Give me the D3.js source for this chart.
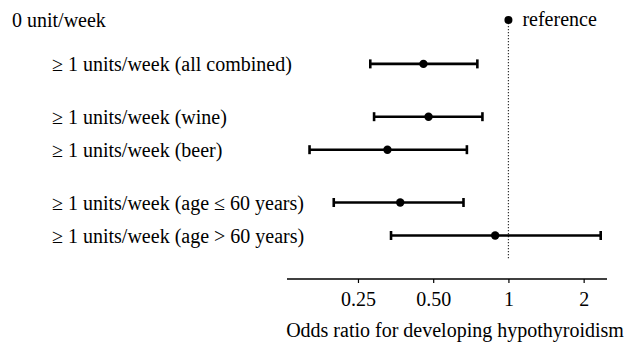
<!DOCTYPE html>
<html>
<head>
<meta charset="utf-8">
<script src="https://cdn.jsdelivr.net/npm/d3@7"></script>
<style>
  body { margin: 0; background: #fff; }
</style>
</head>
<body>
<svg id="chart" width="627" height="344"></svg>
<script>
// rows of the forest plot
var labels = [
    "≥ 1 units/week (all combined)",
    "≥ 1 units/week (wine)",
    "≥ 1 units/week (beer)",
    "≥ 1 units/week (age ≤ 60 years)",
    "≥ 1 units/week (age > 60 years)"
];
var groups = [1, 2, 2, 3, 3];
var oddsRatio = [0.457, 0.479, 0.328, 0.369, 0.885];
var lowerCI = [0.280, 0.290, 0.160, 0.200, 0.339];
var upperCI = [0.751, 0.787, 0.682, 0.661, 2.34];

var refLabel = "0 unit/week";
var refValue = 1;
var tickValues = [0.25, 0.5, 1, 2];
var tickLabels = ["0.25", "0.50", "1", "2"];
var xTitle = "Odds ratio for developing hypothyroidism";

var serif = "'Liberation Serif', 'Times New Roman', Times, serif";
var svg = d3.select("#chart").attr("font-family", serif);
var fontSize = 20;

var x = d3.scaleLog().domain([0.13, 2.48]).range([287, 607]);

// vertical slot for each row: reference first, then groups separated by gaps
var slots = [0];
var pos = 1.33;
labels.forEach(function(l, i) {
    if (i > 0) pos += (groups[i] === groups[i - 1]) ? 1 : 1.6;
    slots.push(pos);
});
var y = d3.scaleLinear().domain([0, 1]).range([20, 53]);

var rows = labels.map(function(l, i) {
    return { label: l, or: oddsRatio[i], lo: lowerCI[i], hi: upperCI[i], slot: slots[i + 1] };
});

// reference dotted line
svg.append("line")
    .attr("x1", x(refValue)).attr("x2", x(refValue))
    .attr("y1", y(0)).attr("y2", 259)
    .attr("stroke", "#333")
    .attr("stroke-width", 1.2)
    .attr("stroke-dasharray", "1.2,1.8");

svg.append("circle")
    .attr("cx", x(refValue)).attr("cy", y(0)).attr("r", 4);

svg.append("text")
    .attr("x", x(refValue) + 14).attr("y", y(0) + 6)
    .attr("font-size", fontSize)
    .text("reference");

svg.append("text")
    .attr("x", 12).attr("y", y(0) + 7)
    .attr("font-size", fontSize)
    .text(refLabel);

var row = svg.selectAll(".row")
    .data(rows)
    .enter().append("g")
    .attr("class", "row")
    .attr("transform", function(d) { return "translate(0," + y(d.slot) + ")"; });

row.append("text")
    .attr("x", 52)
    .attr("y", 7.5)
    .attr("font-size", fontSize)
    .text(function(d) { return d.label; });

row.append("line")
    .attr("x1", function(d) { return x(d.lo); })
    .attr("x2", function(d) { return x(d.hi); })
    .attr("stroke", "#000").attr("stroke-width", 2.6);

row.selectAll(".cap")
    .data(function(d) { return [d.lo, d.hi]; })
    .enter().append("line")
    .attr("class", "cap")
    .attr("x1", function(v) { return x(v); })
    .attr("x2", function(v) { return x(v); })
    .attr("y1", -4.5).attr("y2", 4.5)
    .attr("stroke", "#000").attr("stroke-width", 2.6);

row.append("circle")
    .attr("cx", function(d) { return x(d.or); })
    .attr("r", 4.2);

// x axis
var axis = svg.append("g")
    .attr("transform", "translate(0,279)")
    .call(d3.axisBottom(x).tickValues(tickValues)
        .tickFormat(function(v, i) { return tickLabels[i]; })
        .tickSize(4).tickPadding(9))
    .attr("font-family", serif)
    .attr("font-size", fontSize);

axis.select(".domain").attr("stroke-width", 1.5).attr("d", "M287,0H607");
axis.selectAll(".tick line").attr("stroke-width", 1.2);
axis.selectAll(".tick text").attr("fill", "#000");

svg.append("text")
    .attr("x", 455).attr("y", 337)
    .attr("text-anchor", "middle")
    .attr("font-size", fontSize)
    .text(xTitle);
</script>
</body>
</html>
